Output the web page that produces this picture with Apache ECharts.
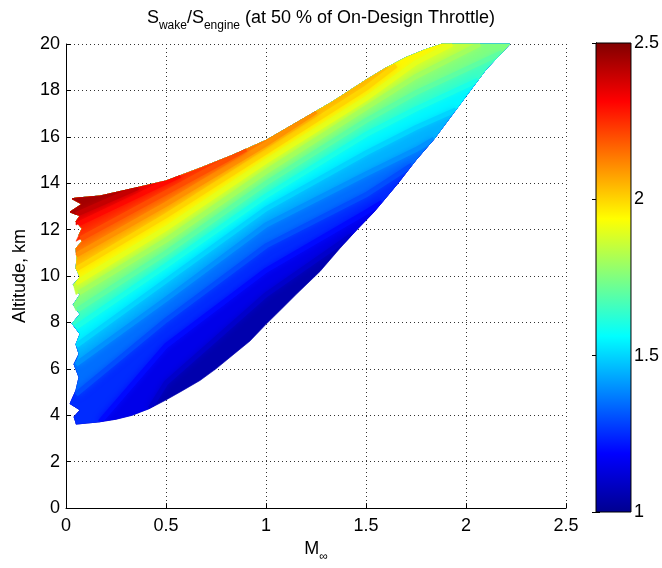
<!DOCTYPE html>
<html lang="en">
<head>
<meta charset="UTF-8">
<title>Swake/Sengine</title>
<script src="https://cdn.jsdelivr.net/npm/echarts/dist/echarts.min.js"></script>
<style>body{margin:0;background:#fff;}</style>
</head>
<body>
<div id="mybox" style="width:662px;height:568px;"></div>
<script>
// edges of the computed region, [Mach, altitude km]
var lowerEdge = [[0.05,3.62],[0.17,3.72],[0.25,3.83],[0.33,4.0],[0.42,4.3],[0.5,4.66],[0.58,5.05],[0.67,5.5],[0.75,6.0],
    [0.83,6.57],[0.92,7.2],[1.0,7.92],[1.08,8.6],[1.15,9.2],[1.27,10.2],[1.37,11.2],[1.46,12.05],[1.54,12.76],[1.66,14.0],
    [1.75,15.0],[1.84,15.9],[2.0,17.75],[2.1,18.9],[2.22,20]];
var upperEdge = [[0.05,13.36],[0.17,13.45],[0.33,13.76],[0.5,14.1],[0.67,14.65],[0.83,15.2],[1.0,15.85],
    [1.16,16.65],[1.33,17.5],[1.5,18.45],[1.6,18.97],[1.7,19.42],[1.8,19.77],[1.88,20]];
// ragged left side, top to bottom
var leftEdge = [[0.03,13.33],[0.08,13.1],[0.02,12.76],[0.07,12.6],[0.05,12.35],[0.08,12.05],[0.065,11.77],[0.08,11.49],
    [0.05,11.2],[0.055,10.77],[0.05,10.34],[0.07,9.96],[0.037,9.63],[0.07,9.2],[0.037,8.77],[0.07,8.35],[0.03,7.96],
    [0.07,7.5],[0.05,7.06],[0.065,6.64],[0.04,6.2],[0.065,5.64],[0.05,5.08],[0.02,4.5],[0.07,4.23],[0.04,3.93],[0.05,3.67]];

// contour lines of Swake/Sengine
var levels = [1.1,1.2,1.3,1.4,1.5,1.6,1.7,1.8,1.9,2.0,2.1,2.2,2.3,2.4];
var contours = [
    [[0.42,4.3],[0.5,5.4],[1.0,9.2],[1.43,11.77]],
    [[0.17,3.72],[0.5,7.0],[1.0,10.25],[1.5,12.75],[1.58,13.17]],
    [[0.05,4.9],[0.5,8.1],[1.0,11.3],[1.5,13.5],[1.73,14.78]],
    [[0.05,6.2],[0.5,9.0],[1.0,12.2],[1.5,14.4],[1.75,15.45],[1.84,15.9]],
    [[0.05,7.0],[0.5,9.8],[1.0,12.9],[1.5,15.3],[1.75,16.4],[1.95,17.17]],
    [[0.05,7.8],[0.5,10.45],[1.0,13.45],[1.5,16.1],[1.75,17.2],[2.06,18.44]],
    [[0.05,8.5],[0.5,11.0],[1.0,14.0],[1.5,16.7],[1.75,17.9],[2.18,19.63]],
    [[0.05,9.2],[0.5,11.55],[1.0,14.5],[1.5,17.25],[1.75,18.6],[2.07,20]],
    [[0.05,9.7],[0.5,12.05],[1.0,14.95],[1.5,17.65],[1.75,19.2],[1.93,20]],
    [[0.05,10.3],[0.5,12.6],[1.0,15.35],[1.5,18.1],[1.65,19.08]],
    [[0.05,10.9],[0.5,13.1],[1.0,15.7],[1.25,17.1]],
    [[0.05,11.5],[0.5,13.6],[0.9,15.47]],
    [[0.05,12.2],[0.5,14.05],[0.57,14.33]],
    [[0.05,12.65],[0.36,13.82]]
];
var startsOn = ['low','low','left','left','left','left','left','left','left','left','left','left','left','left'];
var endsOn = ['low','low','low','low','low','low','low','top','top','up','up','up','up','up'];

var jetColors = ['#00008f','#0000ff','#0080ff','#00ffff','#80ff80','#ffff00','#ff8000','#ff0000','#800000'];

// region where the value is above contour i
function regionAbove(i) {
    var c = contours[i];
    var s = c[0], e = c[c.length - 1];
    var pts = [];
    if (startsOn[i] === 'low') {
        pts = pts.concat(lowerEdge.filter(function (p) { return p[1] < s[1]; }));
    }
    pts = pts.concat(c);
    if (endsOn[i] === 'low') {
        pts = pts.concat(lowerEdge.filter(function (p) { return p[1] > e[1]; }));
    }
    if (endsOn[i] === 'up') {
        pts = pts.concat(upperEdge.filter(function (p) { return p[0] < e[0]; }).reverse());
    } else {
        pts = pts.concat(upperEdge.slice().reverse());
    }
    pts = pts.concat(leftEdge.filter(function (p) { return startsOn[i] === 'low' || p[1] > s[1]; }));
    return pts;
}

var domain = lowerEdge.concat(upperEdge.slice().reverse(), leftEdge);
var polygons = [domain];
var bandValues = [1.05];
for (var i = 0; i < levels.length; i++) {
    polygons.push(regionAbove(i));
    bandValues.push(levels[i] + 0.05);
}

var gradStops = jetColors.map(function (c, k) { return {offset: k / (jetColors.length - 1), color: c}; });
var font = 'Liberation Sans';

function toPx(api, list) {
    return list.map(function (p) { return api.coord(p); });
}

var mychart = echarts.init(document.getElementById('mybox'));
mychart.setOption({
    backgroundColor: '#fff',
    animation: false,
    textStyle: {fontFamily: font},
    title: {
        text: '{m|S}{s|wake}{m|/S}{s|engine}{m| (at 50 % of On-Design Throttle)}',
        left: 316, top: 4, textAlign: 'center',
        textStyle: {
            fontWeight: 'normal',
            rich: {
                m: {fontSize: 18, color: '#000', fontWeight: 'normal', fontFamily: font, lineHeight: 22, verticalAlign: 'top'},
                s: {fontSize: 12, color: '#000', fontWeight: 'normal', fontFamily: font, lineHeight: 12, padding: [11, 0, 0, 0], verticalAlign: 'top'}
            }
        }
    },
    visualMap: {
        type: 'continuous', show: false, seriesIndex: [0, 1], dimension: 1,
        min: 1, max: 2.5, inRange: {color: jetColors}
    },
    grid: [
        {left: 66, top: 44, width: 500, height: 468},
        {left: 596, top: 43, width: 36, height: 469}
    ],
    xAxis: [{
        type: 'value', gridIndex: 0, min: 0, max: 2.5, interval: 0.5,
        axisLine: {lineStyle: {color: '#000'}},
        axisTick: {inside: true, length: 5, lineStyle: {color: '#000'}},
        axisLabel: {color: '#000', fontSize: 18, margin: 9},
        splitLine: {show: true, lineStyle: {color: '#333', type: [1, 3]}},
        name: '{a|M}{b|∞}', nameLocation: 'middle', nameGap: 19,
        nameTextStyle: {
            rich: {
                a: {fontSize: 18, color: '#000', fontFamily: font, lineHeight: 22, verticalAlign: 'top'},
                b: {fontSize: 12, color: '#000', fontFamily: font, lineHeight: 12, padding: [11, 0, 0, 0], verticalAlign: 'top'}
            }
        }
    }, {
        type: 'value', gridIndex: 1, min: 0, max: 1, show: false
    }],
    yAxis: [{
        type: 'value', gridIndex: 0, min: 0, max: 20, interval: 2,
        axisLine: {lineStyle: {color: '#000'}},
        axisTick: {inside: true, length: 5, lineStyle: {color: '#000'}},
        axisLabel: {color: '#000', fontSize: 18, margin: 6},
        splitLine: {show: true, lineStyle: {color: '#333', type: [1, 3]}},
        name: 'Altitude, km', nameLocation: 'middle', nameGap: 27,
        nameTextStyle: {color: '#000', fontSize: 18}
    }, {
        type: 'value', gridIndex: 1, position: 'right', min: 1, max: 2.5, interval: 0.5,
        axisLine: {show: true, lineStyle: {color: '#000'}},
        axisTick: {inside: true, length: 4, lineStyle: {color: '#000'}},
        axisLabel: {color: '#000', fontSize: 18, margin: 3},
        splitLine: {show: false}
    }, {
        type: 'value', gridIndex: 1, position: 'left', min: 1, max: 2.5, interval: 0.5,
        axisLine: {show: true, lineStyle: {color: '#000'}},
        axisTick: {inside: true, length: 4, lineStyle: {color: '#000'}},
        axisLabel: {show: false},
        splitLine: {show: false}
    }],
    series: [{
        // filled bands, painted from low to high values
        type: 'custom',
        xAxisIndex: 0, yAxisIndex: 0,
        data: bandValues.map(function (v, k) { return [k, v]; }),
        renderItem: function (params, api) {
            var col = api.visual('color');
            return {type: 'polygon', shape: {points: toPx(api, polygons[params.dataIndex])},
                style: {fill: col, stroke: col, lineWidth: 0.6}};
        }
    }, {
        // soft contour lines at each level, to blend neighbouring bands
        type: 'custom',
        xAxisIndex: 0, yAxisIndex: 0,
        data: levels.map(function (v, k) { return [k, v]; }),
        renderItem: function (params, api) {
            var col = api.visual('color');
            return {
                type: 'polyline',
                shape: {points: toPx(api, contours[params.dataIndex])},
                clipPath: {type: 'polygon', shape: {points: toPx(api, domain)}},
                style: {fill: null, stroke: col, lineWidth: 5, shadowBlur: 6, shadowColor: col}
            };
        }
    }, {
        type: 'custom',
        xAxisIndex: 1, yAxisIndex: 1,
        data: [[0, 2.5]],
        renderItem: function (params, api) {
            var a = api.coord([0, 2.5]), b = api.coord([1, 1]);
            return {
                type: 'rect',
                shape: {x: a[0], y: a[1], width: b[0] - a[0], height: b[1] - a[1]},
                style: {fill: new echarts.graphic.LinearGradient(0, 1, 0, 0, gradStops), stroke: '#000', lineWidth: 1}
            };
        }
    }]
});
</script>
</body>
</html>
